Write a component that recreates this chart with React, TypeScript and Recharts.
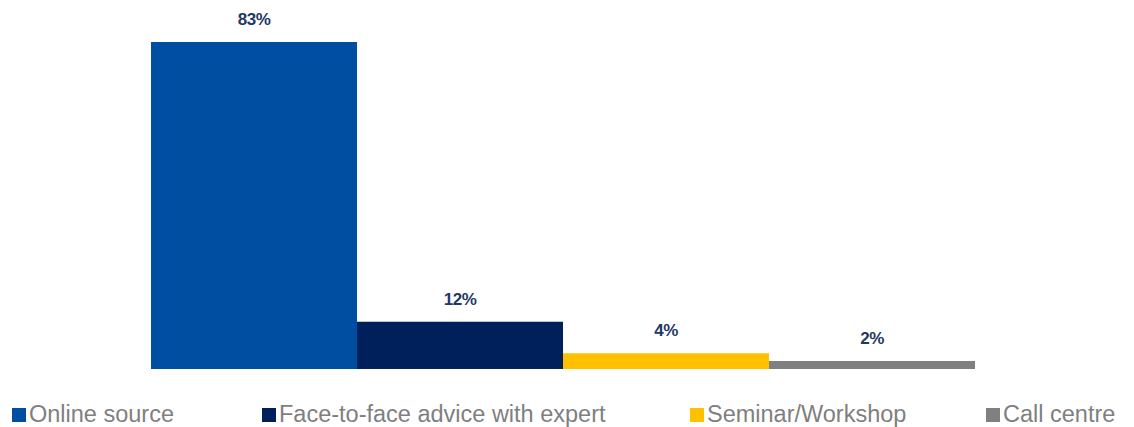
import React from "react";
import { BarChart, Bar, XAxis, YAxis, LabelList } from "recharts";

const seriesNames = ["Online source", "Face-to-face advice with expert", "Seminar/Workshop", "Call centre"];
const seriesValues = [83, 12, 4, 2];
const seriesColors = ["#004EA2", "#00205B", "#FFC000", "#808080"];
const legendLeft = [12, 262, 690, 986];

const data = [
  seriesNames.reduce((row: Record<string, number | string>, _n, i) => {
    row["s" + i] = seriesValues[i];
    return row;
  }, { name: "All" } as Record<string, number | string>),
];

export default function App() {
  return (
    <div style={{ position: "absolute", left: 0, top: 0, width: 1134, height: 427, background: "#fff", overflow: "hidden" }}>
      <BarChart
        width={1134}
        height={369}
        data={data}
        margin={{ top: 42, right: 159, bottom: 0, left: 151 }}
        barCategoryGap={0}
        barGap={0}
      >
        <XAxis dataKey="name" hide />
        <YAxis hide domain={[0, "dataMax"]} />
        {seriesNames.map((n, i) => (
          <Bar key={n} dataKey={"s" + i} name={n} fill={seriesColors[i]} isAnimationActive={false}>
            <LabelList
              dataKey={"s" + i}
              position="top"
              offset={17}
              formatter={(v: number) => `${v}%`}
              style={{
                fill: "#1F3864",
                fontFamily: "'Liberation Sans', Arial, sans-serif",
                fontWeight: 700,
                fontSize: 17,
                letterSpacing: -0.5,
              }}
            />
          </Bar>
        ))}
      </BarChart>
      {seriesNames.map((n, i) => (
        <div
          key={n}
          style={{
            position: "absolute",
            left: legendLeft[i],
            top: 401,
            display: "flex",
            alignItems: "center",
            fontFamily: "'Liberation Sans', Arial, sans-serif",
            fontSize: 23.5,
            color: "#7F7F7F",
            whiteSpace: "nowrap",
            lineHeight: "26px",
          }}
        >
          <span style={{ display: "inline-block", width: 14, height: 14, background: seriesColors[i], marginRight: 3, marginTop: 2 }} />
          <span>{n}</span>
        </div>
      ))}
    </div>
  );
}
